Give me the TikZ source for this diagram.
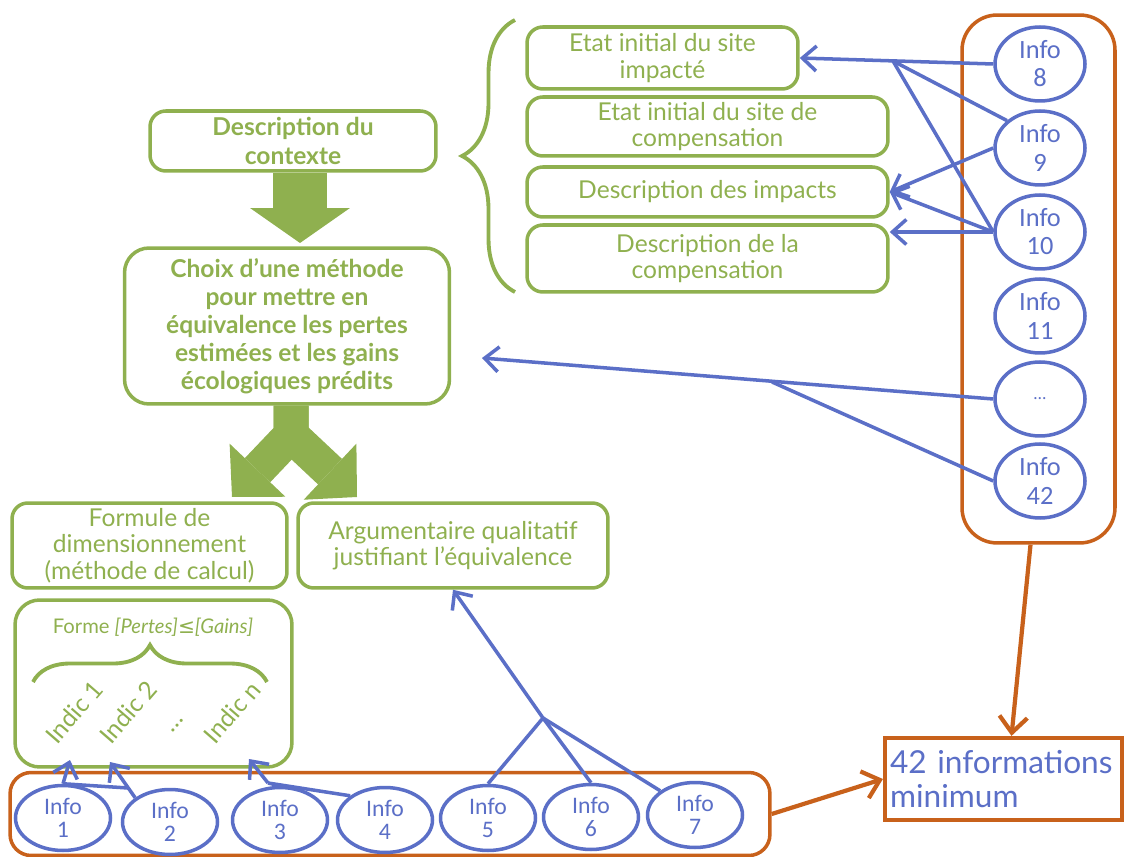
\documentclass[tikz,border=0pt]{standalone}
\usepackage{fontspec}
\setmainfont{Lato}
\newfontfamily\infofont{Carlito}
\newfontfamily\symfont{DejaVu Sans}
\usepackage{xcolor}
\definecolor{ctxgreen}{HTML}{8FB04F}
\definecolor{infoblue}{HTML}{5B6FC7}
\definecolor{infoorange}{HTML}{C8611B}
\usetikzlibrary{arrows.meta,positioning,shapes.geometric,decorations.pathreplacing,calc}
\tikzset{
  gbox/.style={draw=ctxgreen,line width=2pt,rounded corners=9pt,text=ctxgreen,align=center,inner sep=2pt,font=\fontsize{14}{15}\selectfont},
  gbold/.style={gbox,font=\fontsize{14}{16}\selectfont\bfseries},
  infonode/.style={ellipse,draw=infoblue,line width=2pt,fill=white,text=infoblue,align=center,inner sep=0pt,minimum width=1.8cm,minimum height=1.48cm,font=\infofont\fontsize{15}{16}\selectfont},
  infolow/.style={infonode,minimum width=1.9cm,minimum height=1.3cm,font=\infofont\fontsize{13.5}{13}\selectfont},
  orangebox/.style={draw=infoorange,line width=2pt,rounded corners=12pt},
  bluelink/.style={draw=infoblue,line width=2pt},
  bluearrow/.style={bluelink,-{Straight Barb[length=2.8mm,width=5mm]}},
  orangearrow/.style={draw=infoorange,line width=2.4pt,-{Straight Barb[length=3.2mm,width=5.6mm]}},
  fatarrow/.style={draw=ctxgreen,line width=1.1cm,-{Triangle[length=0.7cm,width=2cm,line width=0pt]}},
  splitarrow/.style={draw=ctxgreen,line width=0.7cm,line join=miter,-{Triangle[length=0.74cm,width=1.54cm,line width=0pt]}},
  indic/.style={text=ctxgreen,rotate=49,inner sep=0pt,font=\fontsize{14}{14}\selectfont},
  gbrace/.style={draw=ctxgreen,line width=2.2pt,decorate},
}

\begin{document}
\begin{tikzpicture}[x=0.02cm,y=-0.02cm]
\useasboundingbox (0,0) rectangle (1125,857);

% left column
\node[gbold,minimum width=5.72cm,minimum height=1.2cm] (ctx) at (293,141) {Description du\\contexte};
\node[gbold,minimum width=6.5cm,minimum height=3.12cm,rounded corners=14pt] (choix) at (287,326) {Choix d’une méthode\\pour mettre en\\équivalence les pertes\\estimées et les gains\\écologiques prédits};
\node[gbox,minimum width=5.5cm,minimum height=1.7cm] (formule) at (149.5,545.5) {Formule de\\dimensionnement\\(méthode de calcul)};
\node[gbox,minimum width=6.2cm,minimum height=1.7cm] (argu) at (453,545.5) {Argumentaire qualitatif\\justifiant l’équivalence};
\node[gbox,minimum width=5.54cm,minimum height=3.34cm,rounded corners=14pt] (forme) at (153.5,683.5) {};
\node[text=ctxgreen,font=\fontsize{11.5}{12}\selectfont] (formetitle) at (153,627) {Forme \textit{[Pertes]{\symfont≤}[Gains]}};
\draw[gbrace,decoration={brace,amplitude=0.74cm}] (33,682) -- (267,682);
\node[indic] (ind1) at (74,712) {Indic 1};
\node[indic] (ind2) at (128,712) {Indic 2};
\node[indic] (inddots) at (178,726) {…};
\node[indic] (indn) at (232,712) {Indic n};

% big arrows
\coordinate (fatTip) at (300,243);
\draw[fatarrow] (ctx.south -| fatTip) -- (fatTip);
\coordinate (splitHub) at (291,435);
\coordinate (splitL) at (232,497);
\coordinate (splitR) at (357,497);
\draw[splitarrow] (choix.south -| splitHub) -- (splitHub) -- (splitL);
\draw[splitarrow] (choix.south -| splitHub) -- (splitHub) -- (splitR);

% top boxes
\node[gbox,minimum width=5.42cm,minimum height=1.24cm] (etat1) at (662.5,58) {Etat initial du site\\impacté};
\node[gbox,minimum width=7.22cm,minimum height=1.18cm] (etat2) at (707.5,126.5) {Etat initial du site de\\compensation};
\node[gbox,minimum width=7.22cm,minimum height=1.0cm] (impacts) at (707.5,192) {Description des impacts};
\node[gbox,minimum width=7.22cm,minimum height=1.34cm] (compens) at (707.5,258.5) {Description de la\\compensation};
\draw[gbrace,decoration={brace,amplitude=1.06cm}] (515,292) -- (515,20);

% right column
\node[orangebox,minimum width=3.06cm,minimum height=10.56cm,rounded corners=20pt] (rightcol) at (1038.5,279) {};
\node[infonode] (i8) at (1040,64) {Info\\8};
\node[infonode] (i9) at (1040,148) {Info\\9};
\node[infonode] (i10) at (1040,232) {Info\\10};
\node[infonode] (i11) at (1040,316) {Info\\11};
\node[infonode,font=\infofont\fontsize{10}{10}\selectfont] (idots) at (1040,399) {…};
\node[infonode] (i42) at (1040,481) {Info\\42};

% bottom row
\node[orangebox,minimum width=15.2cm,minimum height=1.66cm] (lowcol) at (390,814) {};
\node[infolow] (i1) at (63,818) {Info\\1};
\node[infolow] (i2) at (170,822) {Info\\2};
\node[infolow] (i3) at (280,820) {Info\\3};
\node[infolow] (i4) at (385,820) {Info\\4};
\node[infolow] (i5) at (488,818) {Info\\5};
\node[infolow] (i6) at (591,817) {Info\\6};
\node[infolow] (i7) at (695,815) {Info\\7};

\node[draw=infoorange,line width=2.4pt,text=infoblue,align=left,text width=4.54cm,inner xsep=0.1cm,minimum height=1.64cm,font=\fontsize{18}{19}\selectfont] (total) at (1003.5,779) {42 informations\\minimum};

% blue links, right
\coordinate (hubA) at (893,61);
\draw[bluearrow] (i8.west) -- (etat1.east);
\draw[bluelink] (hubA) -- (i9.north west);
\draw[bluelink] (hubA) -- (i10.west);
\draw[bluearrow] (i9.west) -- (impacts.east);
\draw[bluearrow] (i10.west) -- (impacts.east);
\draw[bluearrow] (i10.west) -- (i10.west -| compens.east);
\coordinate (hubB) at (772,382);
\coordinate (tipB) at (482,358);
\draw[bluearrow] (idots.west) -- (tipB);
\draw[bluelink] (i42.west) -- (hubB);

% blue links, bottom
\coordinate (tip1) at (70,760);
\coordinate (tip2) at (110,762);
\coordinate (hubD) at (128,788);
\draw[bluearrow] (i1.north) -- (tip1);
\draw[bluearrow] (i2.north west) -- (tip2);
\draw[bluelink] (i1.north) -- (hubD);
\coordinate (tip3) at (249,759);
\coordinate (hubE) at (268,783);
\draw[bluearrow] (hubE) -- (tip3);
\draw[bluelink] (i3.north) -- (hubE) -- (i4.north west);
\coordinate (hubC) at (543,718);
\draw[bluelink] (i5.north) -- (hubC);
\draw[bluelink] (i6.north) -- (hubC);
\draw[bluelink] (i7.north west) -- (hubC);
\draw[bluearrow] (hubC) -- (argu.south);

% orange arrows
\draw[orangearrow] ($(rightcol.south)+(-8,0)$) -- ($(total.north)+(8,0)$);
\draw[orangearrow] (lowcol.east) -- (total.west);
\end{tikzpicture}
\end{document}
